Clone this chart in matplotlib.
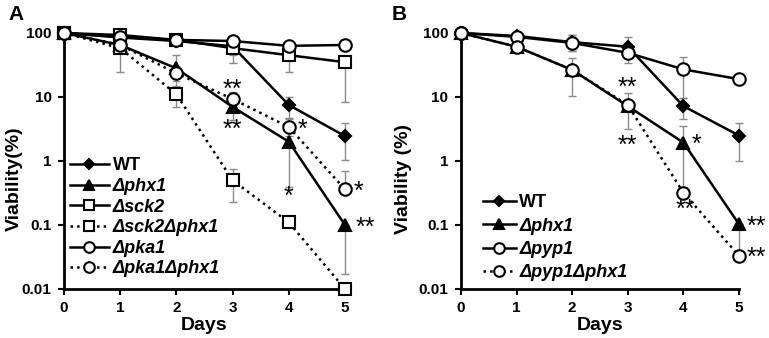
import numpy as np
import matplotlib
matplotlib.use("Agg")
import matplotlib.pyplot as plt

plt.rcParams['font.family'] = ['Liberation Sans', 'DejaVu Sans']
plt.rcParams['font.weight'] = 'bold'

days = [0, 1, 2, 3, 4, 5]

# panel A: viability (%) and error limits (lo, hi)
wt_a = [100, 85, 75, 62, 7.5, 2.45]
wt_a_lo = [100, 80, 65, 45, 4.7, 1.03]
wt_a_hi = [100, 90, 90, 75, 10, 3.9]
phx1_a = [100, 65, 28, 7.0, 2.0, 0.1]
phx1_a_lo = [100, 55, 18, 4.4, 0.39, 0.017]
phx1_a_hi = [100, 75, 45, 11.5, 3.5, 0.1]
sck2_a = [100, 93, 78, 58, 45, 35]
sck2_a_lo = [100, 80, 65, 34, 24.5, 8.3]
sck2_a_hi = [100, 100, 90, 65, 47, 40]
sck2phx1_a = [100, 58, 11, 0.5, 0.11, 0.01]
sck2phx1_a_lo = [100, 24.5, 7, 0.23, 0.11, 0.01]
sck2phx1_a_hi = [100, 95, 12.8, 0.75, 0.11, 0.01]
pka1_a = [100, 87, 78, 75, 63, 65]
pka1_a_lo = [100, 82, 72, 70, 58, 60]
pka1_a_hi = [100, 92, 84, 80, 68, 70]
pka1phx1_a = [100, 65, 23.5, 9.3, 3.4, 0.36]
pka1phx1_a_lo = [100, 60, 15, 7, 2.5, 0.36]
pka1phx1_a_hi = [100, 72, 30, 12, 4.5, 0.7]

# panel B
wt_b = [100, 90, 72, 61, 7.2, 2.5]
wt_b_lo = [100, 85, 52, 50, 4.6, 1.0]
wt_b_hi = [100, 95, 93, 88, 9.8, 3.9]
phx1_b = [100, 61, 26.5, 7.2, 1.94, 0.103]
phx1_b_lo = [100, 52, 10.4, 3.2, 0.37, 0.035]
phx1_b_hi = [100, 72, 41, 11.5, 3.5, 0.103]
pyp1_b = [100, 87, 70, 49, 27, 19]
pyp1_b_lo = [100, 82, 52, 34, 9.7, 19]
pyp1_b_hi = [100, 92, 93, 60, 42, 19]
pyp1phx1_b = [100, 61, 26.5, 7.5, 0.32, 0.033]
pyp1phx1_b_lo = [100, 61, 26.5, 7.5, 0.32, 0.033]
pyp1phx1_b_hi = [100, 61, 26.5, 7.5, 0.32, 0.033]

labels_a = ['WT', 'Δphx1', 'Δsck2', 'Δsck2Δphx1', 'Δpka1', 'Δpka1Δphx1']
labels_b = ['WT', 'Δphx1', 'Δpyp1', 'Δpyp1Δphx1']

# significance marks: (x, y, text)
stars_a = [(3, 14, '**'), (3, 3.3, '**'), (4.24, 3.3, '*'), (4.0, 0.3, '*'),
           (5.24, 0.36, '*'), (5.36, 0.1, '**')]
stars_b = [(3.0, 15, '**'), (3.0, 1.9, '**'), (4.24, 1.94, '*'), (4.03, 0.19, '**'),
           (5.31, 0.103, '**'), (5.31, 0.033, '**')]

STYLES = {
    'WT': dict(marker='D', ms=6, mfc='black', ls='-'),
    'phx1': dict(marker='^', ms=8.5, mfc='black', ls='-'),
    'sq': dict(marker='s', ms=8.5, mfc='white', ls='-'),
    'sq_dot': dict(marker='s', ms=8.5, mfc='white', ls=':'),
    'o': dict(marker='o', ms=9, mfc='white', ls='-'),
    'o_dot': dict(marker='o', ms=9, mfc='white', ls=':'),
}


def draw(ax, y, lo, hi, style, label):
    y = np.array(y)
    yerr = [y - np.array(lo), np.array(hi) - y]
    ax.errorbar(days, y, yerr=yerr, fmt='none', ecolor='#8a8a8a', elinewidth=1,
                capsize=3, capthick=1, zorder=2, clip_on=False)
    st = STYLES[style]
    ax.plot(days, y, color='black', lw=1.8, ls=st['ls'], marker=st['marker'],
            ms=st['ms'], mfc=st['mfc'], mec='black', mew=1.5, label=label,
            zorder=3, clip_on=False)


def setup(ax, ylabel, label_x):
    ax.set_yscale('log')
    ax.set_ylim(0.01, 100)
    ax.set_xlim(0, 5)
    ax.set_xticks(days)
    ax.set_yticks([0.01, 0.1, 1, 10, 100])
    ax.set_yticklabels(['0.01', '0.1', '1', '10', '100'])
    ax.minorticks_off()
    ax.spines['top'].set_visible(False)
    ax.spines['right'].set_visible(False)
    ax.spines['left'].set_linewidth(2)
    ax.spines['bottom'].set_linewidth(2)
    ax.tick_params(direction='out', length=4, width=1.5, labelsize=11, pad=5)
    ax.set_xlabel('Days', fontsize=14, fontweight='bold', labelpad=1)
    ax.set_ylabel(ylabel, fontsize=14, fontweight='bold')
    ax.yaxis.set_label_coords(label_x, 0.43)


def add_legend(ax, loc, hl, spacing):
    leg = ax.legend(loc='lower left', bbox_to_anchor=loc, frameon=False,
                    fontsize=13, handlelength=hl, handletextpad=0.2,
                    labelspacing=spacing, borderaxespad=0, borderpad=0,
                    markerscale=0.85)
    for t in leg.get_texts()[1:]:
        t.set_style('italic')


fig = plt.figure(figsize=(7.69, 3.38), dpi=100)
ax_a = fig.add_axes([64 / 769, 1 - 289 / 338, 281 / 769, 256 / 338])
ax_b = fig.add_axes([461 / 769, 1 - 289 / 338, 278 / 769, 256 / 338])

draw(ax_a, wt_a, wt_a_lo, wt_a_hi, 'WT', labels_a[0])
draw(ax_a, phx1_a, phx1_a_lo, phx1_a_hi, 'phx1', labels_a[1])
draw(ax_a, sck2_a, sck2_a_lo, sck2_a_hi, 'sq', labels_a[2])
draw(ax_a, sck2phx1_a, sck2phx1_a_lo, sck2phx1_a_hi, 'sq_dot', labels_a[3])
draw(ax_a, pka1_a, pka1_a_lo, pka1_a_hi, 'o', labels_a[4])
draw(ax_a, pka1phx1_a, pka1phx1_a_lo, pka1phx1_a_hi, 'o_dot', labels_a[5])
setup(ax_a, 'Viability(%)', -0.148)
add_legend(ax_a, (0.02, 0.045), 2.2, 0.2)

draw(ax_b, wt_b, wt_b_lo, wt_b_hi, 'WT', labels_b[0])
draw(ax_b, phx1_b, phx1_b_lo, phx1_b_hi, 'phx1', labels_b[1])
draw(ax_b, pyp1_b, pyp1_b_lo, pyp1_b_hi, 'o', labels_b[2])
draw(ax_b, pyp1phx1_b, pyp1phx1_b_lo, pyp1phx1_b_hi, 'o_dot', labels_b[3])
setup(ax_b, 'Viability (%)', -0.175)
add_legend(ax_b, (0.08, 0.03), 1.8, 0.35)

for ax, stars in [(ax_a, stars_a), (ax_b, stars_b)]:
    for x, y, s in stars:
        ax.text(x, y, s, fontsize=18, fontweight='normal', ha='center',
                va='center_baseline', clip_on=False)

fig.text(8 / 769, 1 - 20 / 338, 'A', fontsize=15, fontweight='bold')
fig.text(392 / 769, 1 - 20 / 338, 'B', fontsize=15, fontweight='bold')

fig.savefig('out.png', dpi=100)
